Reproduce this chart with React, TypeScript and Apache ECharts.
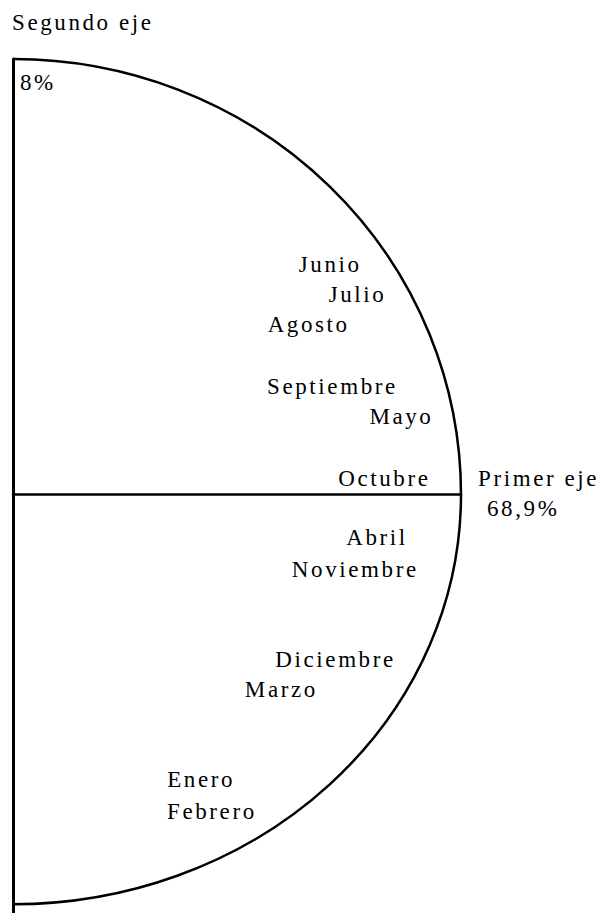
import React, { useEffect, useRef } from "react";
import * as echarts from "echarts";

// Variables (months) and their coordinates on the first and second axes
const months = [
  "Junio", "Julio", "Agosto", "Septiembre", "Mayo", "Octubre",
  "Abril", "Noviembre", "Diciembre", "Marzo", "Enero", "Febrero",
];
const axis1 = [0.708, 0.769, 0.66, 0.713, 0.867, 0.829, 0.8125, 0.764, 0.72, 0.599, 0.42, 0.444];
const axis2 = [0.528, 0.459, 0.39, 0.248, 0.179, 0.037, -0.099, -0.172, -0.378, -0.447, -0.654, -0.727];

const axisTitles = ["Primer eje", "68,9%", "Segundo eje", "8%"];

// Boundary of the correlation half-circle (axis units)
const arcTop = [1];
const arcRight = [1];
const arcBottom = [-0.94];

const FAMILY = "Liberation Serif";
const FS = 23;
const LETTER_SPACING = "2.6px";

export default function App() {
  const ref = useRef<HTMLDivElement>(null);
  useEffect(() => {
    if (!ref.current) return;
    const chart = echarts.init(ref.current, null, { renderer: "svg" });
    const pts = months.map((m, i) => [axis1[i], axis2[i]]);
    const txt = (text: string, x: number, y: number) => ({
      type: "text",
      x,
      y,
      style: {
        text,
        fontFamily: FAMILY,
        fontSize: FS,
        fill: "#000",
        align: "left",
        verticalAlign: "middle",
      },
    });
    chart.setOption({
      animation: false,
      grid: { left: 13, top: 59, width: 448, height: 854, containLabel: false },
      xAxis: {
        type: "value",
        min: 0,
        max: 1,
        axisLine: { show: true, onZero: true, lineStyle: { color: "#000", width: 2.5 } },
        axisTick: { show: false },
        axisLabel: { show: false },
        splitLine: { show: false },
      },
      yAxis: {
        type: "value",
        min: -0.96,
        max: 1,
        axisLine: { show: true, onZero: true, lineStyle: { color: "#000", width: 3 } },
        axisTick: { show: false },
        axisLabel: { show: false },
        splitLine: { show: false },
      },
      graphic: [
        txt(axisTitles[2], 12, 22),
        txt(axisTitles[3], 20, 82),
        txt(axisTitles[0], 478, 478),
        txt(axisTitles[1], 487, 508),
      ],
      series: [
        {
          type: "custom",
          clip: false,
          silent: true,
          data: [[arcRight[0], arcTop[0], arcBottom[0]]],
          renderItem: (params: any, api: any) => {
            const c = api.coord([0, 0]);
            const t = api.coord([0, api.value(1)]);
            const r = api.coord([api.value(0), 0]);
            const b = api.coord([0, api.value(2)]);
            const rx = r[0] - c[0];
            const ryT = c[1] - t[1];
            const ryB = b[1] - c[1];
            const d = `M ${t[0]} ${t[1]} A ${rx} ${ryT} 0 0 1 ${r[0]} ${r[1]} A ${rx} ${ryB} 0 0 1 ${b[0]} ${b[1]}`;
            return {
              type: "path",
              shape: { pathData: d },
              style: { fill: "none", stroke: "#000", lineWidth: 2.5 },
            };
          },
        },
        {
          type: "custom",
          clip: false,
          silent: true,
          data: pts,
          renderItem: (params: any, api: any) => {
            const p = api.coord([api.value(0), api.value(1)]);
            return {
              type: "text",
              x: p[0],
              y: p[1],
              style: {
                text: months[params.dataIndex],
                fontFamily: FAMILY,
                fontSize: FS,
                fill: "#000",
                align: "center",
                verticalAlign: "middle",
              },
            };
          },
        },
      ],
    });
    ref.current.querySelectorAll("text").forEach((t) => {
      (t as SVGTextElement).style.letterSpacing = LETTER_SPACING;
    });
    return () => chart.dispose();
  }, []);
  return (
    <div
      ref={ref}
      style={{ position: "absolute", left: 0, top: 0, width: 601, height: 913 }}
    />
  );
}
